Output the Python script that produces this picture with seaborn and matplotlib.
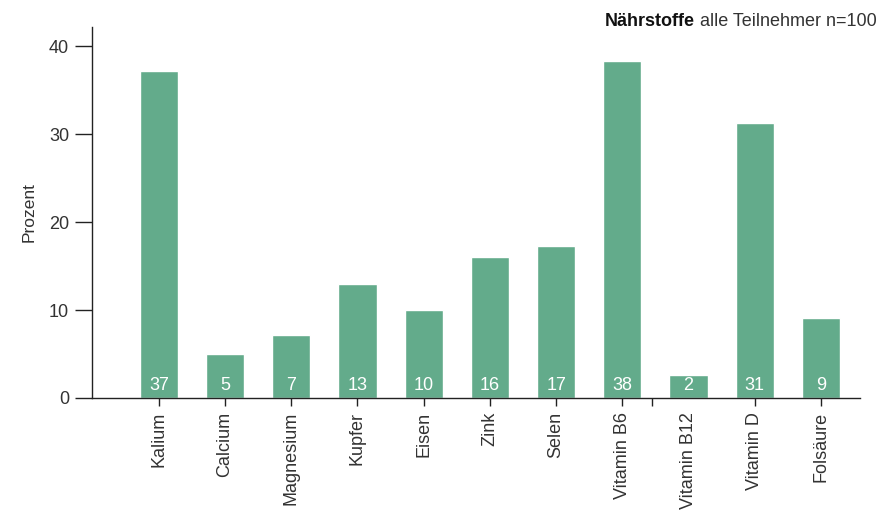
import matplotlib
matplotlib.use("Agg")
import matplotlib.pyplot as plt
import seaborn as sns
import pandas as pd

# Anteil der Teilnehmer je Nährstoff (Prozent)
naehrstoffe = ["Kalium", "Calcium", "Magnesium", "Kupfer", "Eisen", "Zink",
               "Selen", "Vitamin B6", "Vitamin B12", "Vitamin D", "Folsäure"]
prozent = [37.2, 5.0, 7.2, 13.0, 10.0, 16.0, 17.3, 38.3, 2.6, 31.3, 9.1]
y_ticks = [0, 10, 20, 30, 40]

df = pd.DataFrame({"Nährstoff": naehrstoffe, "Prozent": prozent})

sns.set_theme(style="white")
plt.rcParams["font.family"] = ["Liberation Sans", "DejaVu Sans"]

bar_color = "#63ab8b"
text_color = "#333333"
line_color = "#222222"

fig = plt.figure(figsize=(8.81, 5.11), dpi=100)
ax = fig.add_axes([92 / 881, 1 - 398 / 511, (860 - 92) / 881, (398 - 27) / 511])

sns.barplot(data=df, x="Nährstoff", y="Prozent", color=bar_color,
            saturation=1, width=0.575, ax=ax)

# Werte unten in die Balken schreiben
for i, v in enumerate(prozent):
    ax.text(i, 0.5, f"{int(v)}", ha="center", va="bottom",
            color="white", fontsize=13)

ax.set_xlim(-1.01, 10.59)
ax.set_ylim(0, 42.2)
ax.set_yticks(y_ticks)
ax.set_xlabel("")
ax.set_ylabel("Prozent", fontsize=12.5, color=text_color, labelpad=9)

for side in ("top", "right"):
    ax.spines[side].set_visible(False)
for side in ("left", "bottom"):
    ax.spines[side].set_color(line_color)
    ax.spines[side].set_linewidth(1.0)

ax.tick_params(axis="y", which="both", left=True, length=12.5, width=1,
               color=line_color, labelsize=13, labelcolor=text_color, pad=4)
ax.tick_params(axis="x", which="both", bottom=True, length=6, width=1,
               color=line_color, labelsize=13, labelcolor=text_color, pad=4)
ax.set_xticks(range(len(naehrstoffe)))
ax.set_xticklabels(naehrstoffe, rotation=90, va="top", ha="center")

# Teilstrich für Vitamin B12 liegt links neben dem Balken
b12 = naehrstoffe.index("Vitamin B12")
ax.xaxis.get_major_ticks()[b12].tick1line.set_visible(False)
ax.set_xticks([b12 - 0.55], minor=True)
ax.tick_params(axis="x", which="minor", length=6, width=1, color=line_color)

# Titelzeile: fetter Teil plus normaler Teil, rechtsbündig
t2 = fig.text(877 / 881, 1 - 22 / 511, " alle Teilnehmer n=100", ha="right",
              va="center", fontsize=13, color=text_color)
fig.canvas.draw()
bb = t2.get_window_extent()
fig.text(bb.x0 / fig.bbox.width, 1 - 22 / 511, "Nährstoffe", ha="right",
         va="center", fontsize=13, fontweight="bold", color="#111111")

fig.savefig("out.png", dpi=100, facecolor="white")
